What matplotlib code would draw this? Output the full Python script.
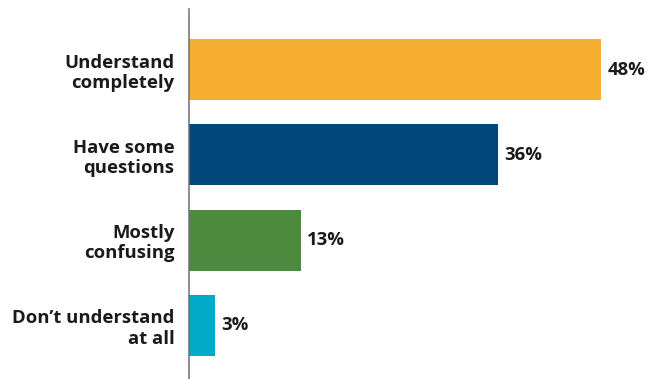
import matplotlib
matplotlib.use("Agg")
import matplotlib.pyplot as plt

# data
categories = ["Understand\ncompletely", "Have some\nquestions", "Mostly\nconfusing", "Don\u2019t understand\nat all"]
values = [48, 36, 13, 3]
colors = ["#F5AE2F", "#00477A", "#4C8B3E", "#00AAC8"]

plt.rcParams['font.family'] = ['Open Sans', 'DejaVu Sans']

fig = plt.figure(figsize=(6.64, 3.79), dpi=100)
ax = fig.add_axes([189 / 664, 0, 1 - 189 / 664, 1 - 9 / 379])

pos = list(range(len(values)))
ax.barh(pos, values, height=0.715, color=colors, zorder=2)

ax.set_xlim(0, (664 - 189) / 8.583)
ax.set_ylim(3.627, -0.709)

for y, v in zip(pos, values):
    ax.text(v + 0.75, y, f"{v}%", va="center", ha="left",
            fontsize=13.3, fontweight="bold", color="#1a1a1a")

ax.set_yticks(pos)
ax.set_yticklabels(categories, fontsize=13.3, fontweight="bold",
                   color="#1a1a1a", linespacing=1.15)
ax.tick_params(axis="y", length=0, pad=10.5)
ax.set_xticks([])

for s in ["top", "right", "bottom"]:
    ax.spines[s].set_visible(False)
ax.spines["left"].set_color("#6d6f73")
ax.spines["left"].set_linewidth(1.1)

fig.savefig("out.png", dpi=100)
